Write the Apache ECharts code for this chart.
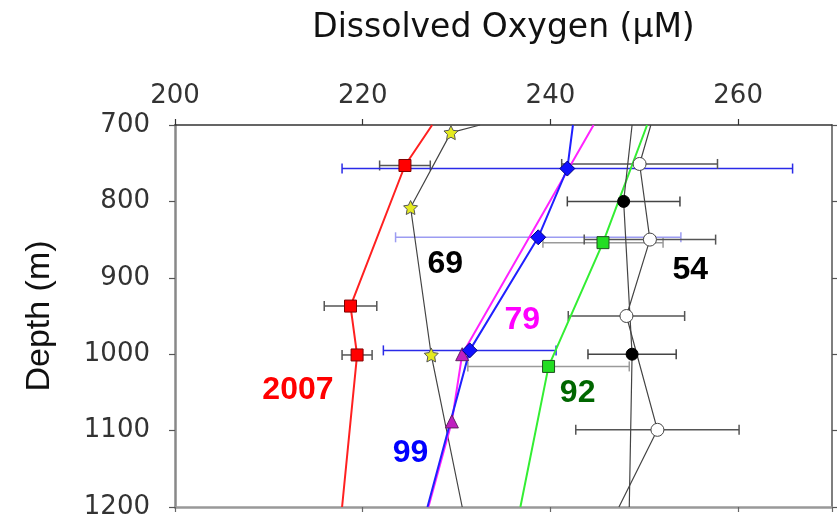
<!DOCTYPE html>
<html>
<head>
<meta charset="utf-8">
<script src="https://cdn.jsdelivr.net/npm/echarts@6/dist/echarts.min.js"></script>
<style>
  html, body { margin: 0; background: #fff; }
  #main { width: 838px; height: 520px; }
</style>
</head>
<body>
<div id="main"></div>
<script>
// dissolved oxygen (uM) vs depth (m)
const xTicks = [200, 220, 240, 260];
const yTicks = [700, 800, 900, 1000, 1100, 1200];

// 2007 (red squares)
const redLine = [[227.4, 700], [224.5, 753], [218.7, 937], [219.4, 1001], [217.8, 1200]];
const redPts = [[224.5, 753], [218.7, 937], [219.4, 1001]];
const redErr = [2.7, 2.8, 1.6];

// 69 (yellow stars)
const starLine = [[232.5, 700], [229.4, 710], [225.1, 808], [227.3, 1001], [230.6, 1200]];
const starPts = [[229.4, 710], [225.1, 808], [227.3, 1001]];

// 99 (blue diamonds)
const blueLine = [[242.4, 700], [241.8, 757], [238.7, 847], [231.4, 995], [226.9, 1200]];
const bluePts = [[241.8, 757], [238.7, 847], [231.4, 995]];
const blueErr = [24.0, 15.2, 9.2];

// 79 (magenta triangles)
const magLine = [[244.6, 700], [230.6, 1000], [229.5, 1088], [227.0, 1200]];
const magPts = [[230.6, 1000], [229.5, 1088]];

// 92 (green squares)
const greenLine = [[250.3, 700], [245.6, 854], [239.8, 1016], [236.8, 1200]];
const greenPts = [[245.6, 854], [239.8, 1016]];
const greenErr = [6.4, 8.6];

// 54 (open and filled circles)
const openLine = [[250.7, 700], [249.5, 751], [250.6, 850], [248.1, 950], [251.4, 1099], [247.3, 1200]];
const openPts = [[249.5, 751], [250.6, 850], [248.1, 950], [251.4, 1099]];
const openErr = [8.3, 7.0, 6.2, 8.7];
const blackLine = [[248.7, 700], [247.8, 800], [248.7, 1000], [248.4, 1200]];
const blackPts = [[247.8, 800], [248.7, 1000]];
const blackErr = [6.0, 4.7];

// year labels: [oxygen, depth, text, color]
const tags = [
  [228.8, 882, '69', '#000'],
  [254.9, 890, '54', '#000'],
  [237.0, 955, '79', '#ff00ff'],
  [213.1, 1047, '2007', '#ff0000'],
  [225.1, 1129, '99', '#0000ff'],
  [242.9, 1051, '92', '#006600']
];

const chart = echarts.init(document.getElementById('main'));

function errSeries(pts, errs, color, width) {
  return {
    type: 'custom',
    z: 1,
    silent: true,
    data: pts.map((p, i) => [p[0], p[1], errs[i]]),
    renderItem: (params, api) => {
      const x = api.value(0), y = api.value(1), e = api.value(2);
      const a = api.coord([x - e, y]);
      const b = api.coord([x + e, y]);
      const st = { stroke: color, lineWidth: width };
      return {
        type: 'group',
        children: [
          { type: 'line', shape: { x1: a[0], y1: a[1], x2: b[0], y2: b[1] }, style: st },
          { type: 'line', shape: { x1: a[0], y1: a[1] - 5, x2: a[0], y2: a[1] + 5 }, style: st },
          { type: 'line', shape: { x1: b[0], y1: b[1] - 5, x2: b[0], y2: b[1] + 5 }, style: st }
        ]
      };
    }
  };
}

function lineSeries(data, color, width) {
  return {
    type: 'line', data: data, symbol: 'none', z: 2, silent: true,
    lineStyle: { color: color, width: width }
  };
}

function markSeries(data, symbol, size, fill, border) {
  return {
    type: 'scatter', data: data, symbol: symbol, symbolSize: size, z: 3, silent: true,
    itemStyle: { color: fill, borderColor: border, borderWidth: 1, opacity: 1 }
  };
}

const axisText = { fontFamily: 'DejaVu Sans', fontSize: 26, color: '#333' };

chart.setOption({
  animation: false,
  grid: { left: 175, top: 125, right: 6, bottom: 13 },
  xAxis: [
    {
      type: 'value', position: 'top', min: 200, max: 270, interval: 20,
      name: 'Dissolved Oxygen (μM)', nameLocation: 'middle', nameGap: 80,
      nameTextStyle: { fontFamily: 'DejaVu Sans', fontSize: 33, color: '#111' },
      axisLine: { show: true, onZero: false, lineStyle: { color: '#333', width: 1.5 } },
      axisTick: { show: true, length: 6, lineStyle: { color: '#333', width: 1.2 } },
      axisLabel: Object.assign({ margin: 16, showMaxLabel: false,
        formatter: v => xTicks.includes(v) ? String(v) : '' }, axisText),
      splitLine: { show: false }
    },
    {
      type: 'value', position: 'bottom', min: 200, max: 270, interval: 20,
      axisLine: { show: true, onZero: false, lineStyle: { color: '#999', width: 2.5 } },
      axisTick: { show: true, length: 5, lineStyle: { color: '#666', width: 1.2 } },
      axisLabel: { show: false },
      splitLine: { show: false }
    }
  ],
  yAxis: [
    {
      type: 'value', position: 'left', inverse: true, min: 700, max: 1200, interval: 100,
      name: 'Depth (m)', nameLocation: 'middle', nameGap: 118, nameRotate: 90,
      nameTextStyle: { fontFamily: 'Liberation Sans', fontSize: 34, color: '#111' },
      axisLine: { show: true, onZero: false, lineStyle: { color: '#888', width: 2.5 } },
      axisTick: { show: true, length: 6, lineStyle: { color: '#555', width: 1.2 } },
      axisLabel: Object.assign({ margin: 25,
        formatter: v => yTicks.includes(v) ? String(v) : '' }, axisText),
      splitLine: { show: false }
    },
    {
      type: 'value', position: 'right', inverse: true, min: 700, max: 1200, interval: 100,
      axisLine: { show: true, onZero: false, lineStyle: { color: '#555', width: 1.5 } },
      axisTick: { show: true, length: 5, lineStyle: { color: '#555', width: 1.2 } },
      axisLabel: { show: false },
      splitLine: { show: false }
    }
  ],
  series: [
    errSeries(redPts, redErr, '#555', 1.5),
    errSeries(bluePts.filter((p, i) => i !== 1), blueErr.filter((e, i) => i !== 1), '#2a2ae8', 1.5),
    errSeries([bluePts[1]], [blueErr[1]], '#9c9cf2', 1.5),
    errSeries(greenPts, greenErr, '#9a9a9a', 1.5),
    errSeries(openPts, openErr, '#555', 1.5),
    errSeries(blackPts, blackErr, '#444', 1.5),

    lineSeries(redLine, '#ff2020', 2),
    lineSeries(starLine, '#444', 1.2),
    lineSeries(greenLine, '#33ee33', 2),
    lineSeries(openLine, '#444', 1.2),
    lineSeries(blackLine, '#444', 1.2),
    lineSeries(magLine, '#ff22ff', 2),
    lineSeries(blueLine, '#2020ff', 2),

    markSeries(redPts, 'rect', 12, '#ff0000', '#800000'),
    markSeries(starPts, 'path://M0,-10 L2.9,-4 L9.5,-3.1 L4.7,1.5 L5.9,8.1 L0,5 L-5.9,8.1 L-4.7,1.5 L-9.5,-3.1 L-2.9,-4 Z', 14, '#e4ea20', '#555'),
    markSeries(magPts, 'triangle', 13, '#c020c0', '#602060'),
    markSeries(bluePts, 'diamond', 15, '#1010ff', '#000080'),
    markSeries(greenPts, 'rect', 12, '#22dd22', '#205020'),
    markSeries(openPts, 'circle', 13, '#ffffff', '#444'),
    markSeries(blackPts, 'circle', 12, '#000000', '#000'),

    {
      type: 'custom', z: 4, silent: true,
      data: tags,
      renderItem: (params, api) => {
        const t = tags[params.dataIndex];
        const p = api.coord([t[0], t[1]]);
        return {
          type: 'text', x: p[0], y: p[1],
          style: {
            text: t[2], fill: t[3], fontSize: 32, fontWeight: 'bold',
            fontFamily: 'Liberation Sans', align: 'center', verticalAlign: 'middle'
          }
        };
      }
    }
  ]
});
</script>
</body>
</html>
